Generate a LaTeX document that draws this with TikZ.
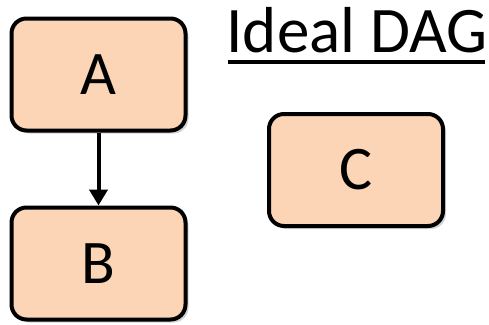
\documentclass[tikz,border=0pt]{standalone}
\usepackage{fontspec}
\setmainfont{Carlito}
\usetikzlibrary{shadows,arrows.meta}

\begin{document}
\begin{tikzpicture}[x=1pt,y=-1pt,
  var/.style={draw=black,line width=4pt,fill=peach,rounded corners=15pt,
    minimum width=174pt,minimum height=112pt,font=\fontsize{62}{62}\selectfont,
    drop shadow={opacity=0.35,shadow xshift=3pt,shadow yshift=-3pt}},
  edge/.style={line width=4pt,-{Triangle[length=16pt,width=18pt]}}]
 \definecolor{peach}{RGB}{251,213,181}
 \useasboundingbox (0,0) rectangle (489,324);
 % the three variables
 \foreach \name/\xp/\yp in {A/98.5/74.5, B/98.5/263.5, C/356/170} {
   \node[var] (\name) at (\xp,\yp) {\name};
 }
 \draw[edge] (A) -- (B);
 % heading
 \node[font=\fontsize{65}{65}\selectfont,anchor=base] (title) at (357,52) {Ideal DAG};
 \draw[line width=4.5pt] (228,62) -- (485,62);
\end{tikzpicture}
\end{document}
